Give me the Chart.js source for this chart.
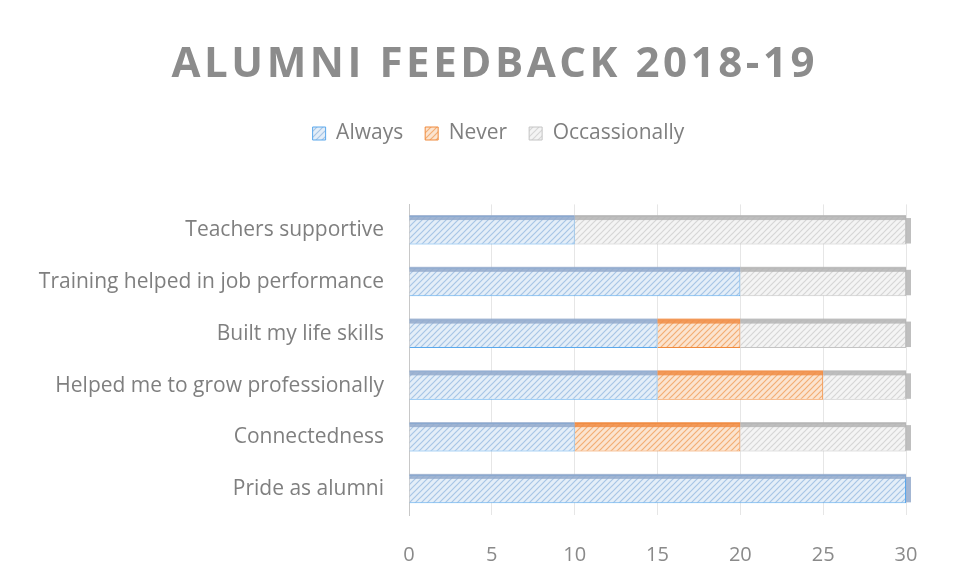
<!DOCTYPE html>
<html>
<head>
<meta charset="utf-8">
<script src="https://cdn.jsdelivr.net/npm/chart.js@4.4.0/dist/chart.umd.min.js"></script>
<style>
  html, body { margin: 0; padding: 0; background: #fff; }
  #wrap { width: 970px; height: 583px; }
</style>
</head>
<body>
<div id="wrap"><canvas id="feedback" width="970" height="583"></canvas></div>
<script>
// data
const chartTitle = 'ALUMNI FEEDBACK 2018-19';
const categories = [
  'Teachers supportive',
  'Training helped in job performance',
  'Built my life skills',
  'Helped me to grow professionally',
  'Connectedness',
  'Pride as alumni'
];
const always = [10, 20, 15, 15, 10, 30];
const never = [0, 0, 5, 10, 10, 0];
const occasionally = [20, 10, 10, 5, 10, 0];
const xTicks = [0, 5, 10, 15, 20, 25, 30];

const textGrey = '#7f7f7f';
const fontName = "'Open Sans', 'Noto Sans', sans-serif";

// hatched fill like the excel pattern
function hatch(bg, line) {
  const c = document.createElement('canvas');
  c.width = 6; c.height = 6;
  const g = c.getContext('2d');
  g.fillStyle = bg;
  g.fillRect(0, 0, 6, 6);
  g.strokeStyle = line;
  g.lineWidth = 1.2;
  g.beginPath();
  g.moveTo(0, 6); g.lineTo(6, 0);
  g.moveTo(-3, 3); g.lineTo(3, -3);
  g.moveTo(3, 9); g.lineTo(9, 3);
  g.stroke();
  return c.getContext('2d').createPattern(c, 'repeat');
}

const tops = ['#93a9cb', '#f08c44', '#b4b4b4'];

// the heading, spaced out like the original
const heading = {
  id: 'heading',
  afterDraw(chart) {
    const ctx = chart.ctx;
    ctx.save();
    ctx.font = 'bold 42px ' + fontName;
    ctx.fillStyle = '#8c8c8c';
    ctx.textAlign = 'left';
    ctx.textBaseline = 'alphabetic';
    const w = ctx.measureText(chartTitle).width;
    const space = Math.max(0, (643 - w) / (chartTitle.length - 1));
    ctx.letterSpacing = space + 'px';
    const w2 = ctx.measureText(chartTitle).width - space;
    ctx.fillText(chartTitle, 493 - w2 / 2, 77);
    ctx.restore();
  }
};

// legend sits a bit right of the canvas centre in the original
const legendNudge = {
  id: 'legendNudge',
  afterLayout(chart) {
    chart.legend.left += 41;
    chart.legend.right += 41;
  }
};

// darker top edge + end cap to fake the 3d bars
const bevel = {
  id: 'bevel',
  afterDatasetsDraw(chart) {
    const ctx = chart.ctx;
    ctx.save();
    const ends = {};
    chart.data.datasets.forEach((ds, di) => {
      const meta = chart.getDatasetMeta(di);
      meta.data.forEach((bar, i) => {
        const w = bar.x - bar.base;
        if (w <= 0) return;
        const top = bar.y - bar.height / 2;
        ctx.fillStyle = tops[di];
        ctx.globalAlpha = 0.85;
        ctx.fillRect(bar.base, top - 1, w, 5);
        if (!ends[i] || bar.x >= ends[i].x) ends[i] = {x: bar.x, y: top, h: bar.height, c: tops[di]};
      });
    });
    ctx.globalAlpha = 0.85;
    Object.values(ends).forEach(e => {
      ctx.fillStyle = e.c;
      ctx.fillRect(e.x, e.y + 2, 5, e.h - 3);
    });
    ctx.restore();
  }
};

const ctx = document.getElementById('feedback').getContext('2d');
new Chart(ctx, {
  type: 'bar',
  data: {
    labels: categories,
    datasets: [
      {
        label: 'Always',
        data: always,
        backgroundColor: hatch('#e4eef8', '#a7c5e6'),
        borderColor: '#5aa8ec',
        borderWidth: 1
      },
      {
        label: 'Never',
        data: never,
        backgroundColor: hatch('#fbe4d0', '#f3ae74'),
        borderColor: '#f08a3c',
        borderWidth: 1
      },
      {
        label: 'Occassionally',
        data: occasionally,
        backgroundColor: hatch('#f4f4f4', '#d6d6d6'),
        borderColor: '#c4c4c4',
        borderWidth: 1
      }
    ]
  },
  options: {
    indexAxis: 'y',
    responsive: false,
    animation: false,
    layout: { padding: { top: 101, left: 9, right: 64, bottom: 0 } },
    datasets: {
      bar: { categoryPercentage: 1, barPercentage: 0.55 }
    },
    scales: {
      x: {
        stacked: true,
        min: 0,
        max: 30,
        afterBuildTicks(scale) {
          scale.ticks = xTicks.map(v => ({ value: v }));
        },
        afterFit(scale) { scale.height = 68; },
        grid: { color: '#e6e6e6', drawTicks: false },
        border: { display: false },
        ticks: { color: '#8a8a8a', padding: 28, font: { family: fontName, size: 20 } }
      },
      y: {
        stacked: true,
        afterFit(scale) { scale.width = 400; },
        grid: { display: false, drawTicks: false },
        border: { display: true, color: '#c8c8c8' },
        ticks: { color: textGrey, padding: 25, font: { family: fontName, size: 21 } }
      }
    },
    plugins: {
      legend: {
        position: 'top',
        labels: {
          color: textGrey,
          boxWidth: 13,
          boxHeight: 13,
          padding: 22,
          font: { family: fontName, size: 21 }
        }
      },
      // empty subtitle only keeps the gap between legend and bars
      subtitle: {
        display: true,
        text: ' ',
        weight: 500,
        font: { size: 12 },
        padding: { top: 0, bottom: 36 }
      },
      tooltip: { enabled: false }
    }
  },
  plugins: [heading, legendNudge, bevel]
});
</script>
</body>
</html>
